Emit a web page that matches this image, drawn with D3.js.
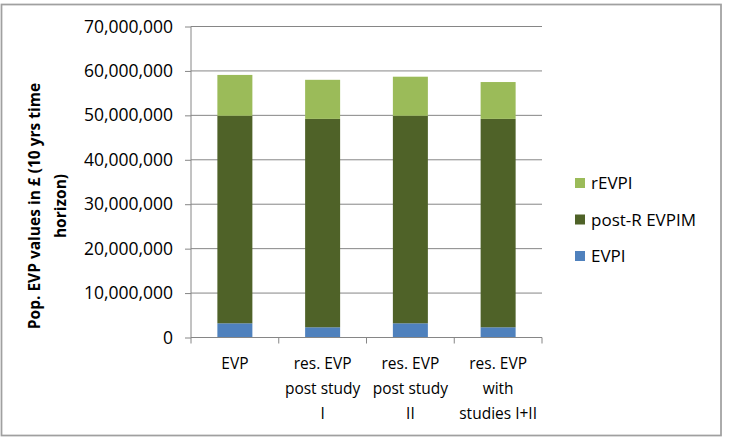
<!DOCTYPE html>
<html lang="en">
<head>
<meta charset="UTF-8">
<title>Pop. EVP values</title>
<script src="https://d3js.org/d3.v7.min.js"></script>
<style>
  body { margin: 0; background: #fff; }
  svg text { font-family: "Open Sans", "Liberation Sans", sans-serif; fill: #000; }
  .yaxis .tick text { font-size: 17.5px; }
  .legend text { font-size: 17px; }
  .ytitle { font-size: 15.5px; font-weight: bold; }
</style>
</head>
<body>
<div id="chart"></div>
<script>
// categories (each label already split into lines as in the picture)
const categories = ["EVP", "res. EVP post study I", "res. EVP post study II", "res. EVP with studies I+II"];
const categoryLines = [
  ["EVP"],
  ["res. EVP", "post study", "I"],
  ["res. EVP", "post study", "II"],
  ["res. EVP", "with", "studies I+II"]
];
// series values, in £
const evpi     = [3200000, 2300000, 3200000, 2300000];
const postR    = [46700000, 46900000, 46700000, 46900000];
const rEvpi    = [9200000, 8800000, 8800000, 8300000];
const seriesNames = ["EVPI", "post-R EVPIM", "rEVPI"];
const colors = ["#4f81bd", "#4f6228", "#9bbb59"];
const yTicks = [0, 10000000, 20000000, 30000000, 40000000, 50000000, 60000000, 70000000];

const W = 735, H = 440;
const plot = {left: 191, right: 542, top: 26.5, bottom: 337.5};

const svg = d3.select("#chart").append("svg")
  .attr("width", W).attr("height", H);

// outer chart border
svg.append("rect")
  .attr("x", 1.5).attr("y", 4.5)
  .attr("width", 719.5).attr("height", 431)
  .attr("fill", "none").attr("stroke", "#a0a0a0").attr("stroke-width", 1.75);

const table = categories.map((c, i) => ({cat: c, "EVPI": evpi[i], "post-R EVPIM": postR[i], "rEVPI": rEvpi[i]}));
const stack = d3.stack().keys(seriesNames)(table);

const x = d3.scaleBand().domain(categories).range([plot.left, plot.right]).paddingInner(0).paddingOuter(0);
const y = d3.scaleLinear().domain([0, 70000000]).range([plot.bottom, plot.top]);

// gridlines
svg.append("g")
  .selectAll("line")
  .data(yTicks.slice(1))
  .join("line")
  .attr("x1", plot.left).attr("x2", plot.right)
  .attr("y1", d => y(d)).attr("y2", d => y(d))
  .attr("stroke", "#868686").attr("stroke-width", 1);

// y axis
const yAxis = svg.append("g")
  .attr("class", "yaxis")
  .attr("transform", `translate(${plot.left},0)`)
  .call(d3.axisLeft(y).tickValues(yTicks).tickFormat(d3.format(",")).tickSize(6).tickPadding(12));
yAxis.select(".domain").attr("stroke", "#868686").attr("d", `M0,${plot.top}V${plot.bottom}`);
yAxis.selectAll(".tick line").attr("stroke", "#868686");
yAxis.selectAll(".tick text").attr("font-size", null).attr("font-family", null);

// bars
const barW = 35;
svg.append("g")
  .selectAll("g")
  .data(stack)
  .join("g")
  .attr("fill", (d, i) => colors[i])
  .selectAll("rect")
  .data(d => d)
  .join("rect")
  .attr("x", d => x(d.data.cat) + x.bandwidth() / 2 - barW / 2)
  .attr("width", barW)
  .attr("y", d => y(d[1]))
  .attr("height", d => y(d[0]) - y(d[1]));

// x axis
const xAxis = svg.append("g")
  .attr("transform", `translate(0,${plot.bottom})`);
xAxis.append("line")
  .attr("x1", plot.left).attr("x2", plot.right)
  .attr("stroke", "#868686");
xAxis.selectAll("line.tk")
  .data(d3.range(categories.length + 1))
  .join("line")
  .attr("class", "tk")
  .attr("x1", i => plot.left + i * x.step()).attr("x2", i => plot.left + i * x.step())
  .attr("y1", 0).attr("y2", 6)
  .attr("stroke", "#868686");
xAxis.selectAll("text")
  .data(categories)
  .join("text")
  .attr("text-anchor", "middle")
  .attr("font-size", 15.5)
  .attr("transform", d => `translate(${x(d) + x.bandwidth() / 2},31)`)
  .selectAll("tspan")
  .data((d, i) => categoryLines[i])
  .join("tspan")
  .attr("x", 0)
  .attr("y", (d, i) => i * 25)
  .text(d => d);

// y title
svg.append("text")
  .attr("class", "ytitle")
  .attr("text-anchor", "middle")
  .attr("transform", "translate(40,206) rotate(-90)")
  .selectAll("tspan")
  .data(["Pop. EVP values in £ (10 yrs time", "horizon)"])
  .join("tspan")
  .attr("x", 0)
  .attr("y", (d, i) => i * 26)
  .text(d => d);

// legend (top to bottom: rEVPI, post-R EVPIM, EVPI)
const legend = svg.append("g").attr("class", "legend")
  .attr("transform", "translate(575,178)");
seriesNames.slice().reverse().forEach((name, i) => {
  const row = legend.append("g").attr("transform", `translate(0,${i * 36.5})`);
  row.append("rect").attr("width", 10).attr("height", 10)
    .attr("fill", colors[seriesNames.length - 1 - i]);
  row.append("text").attr("x", 16).attr("y", 11).text(name);
});
</script>
</body>
</html>
